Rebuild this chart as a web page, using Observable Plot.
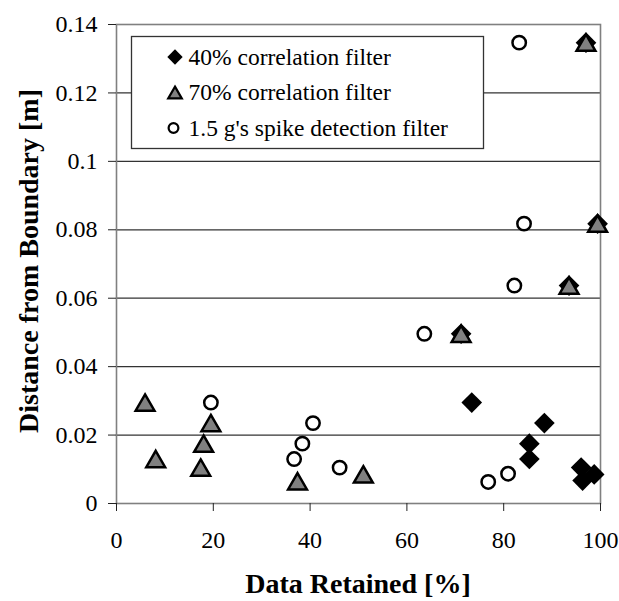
<!DOCTYPE html>
<html>
<head>
<meta charset="utf-8">
<script src="https://cdn.jsdelivr.net/npm/d3@7"></script>
<script src="https://cdn.jsdelivr.net/npm/@observablehq/plot@0.6"></script>
<style>
  html, body { margin: 0; padding: 0; background: #fff; }
  #wrap { position: relative; width: 619px; height: 601px; overflow: hidden; }
  #wrap svg { position: absolute; left: 0; top: 0; }
  #wrap svg text { font-family: "Liberation Serif", "Times New Roman", serif; }
</style>
</head>
<body>
<div id="wrap"></div>
<script>
// ---- data ----
const seriesNames = ["40% correlation filter", "70% correlation filter", "1.5 g's spike detection filter"];

const corr40X = [73.4, 88.4, 85.3, 85.3, 96.0, 98.7, 96.3, 71.2, 93.5, 99.4, 97.0];
const corr40Y = [0.0295, 0.0235, 0.0175, 0.013, 0.0105, 0.0085, 0.0067, 0.0496, 0.0637, 0.0818, 0.1347];

const corr70X = [5.9, 8.1, 19.5, 18.0, 17.4, 37.4, 51.0, 71.2, 93.5, 99.4, 97.0];
const corr70Y = [0.0295, 0.013, 0.0235, 0.0175, 0.0105, 0.0065, 0.0085, 0.0496, 0.0637, 0.0818, 0.1347];

const spikeX = [19.5, 40.6, 38.4, 36.7, 46.1, 76.8, 80.9, 63.6, 82.2, 84.2, 83.2];
const spikeY = [0.0295, 0.0235, 0.0175, 0.013, 0.0105, 0.0063, 0.0087, 0.0496, 0.0637, 0.0818, 0.1347];

const xTicks = [0, 20, 40, 60, 80, 100];
const yTicks = [0, 0.02, 0.04, 0.06, 0.08, 0.1, 0.12, 0.14];

const xTitle = "Data Retained [%]";
const yTitle = "Distance from Boundary [m]";

// ---- build tables ----
const toRows = (xs, ys) => xs.map((x, i) => ({x, y: ys[i]}));
const d40 = toRows(corr40X, corr40Y);
const d70 = toRows(corr70X, corr70Y);
const dSpike = toRows(spikeX, spikeY);

const serif = "'Liberation Serif', 'Times New Roman', serif";

const chart = Plot.plot({
  width: 619,
  height: 601,
  marginLeft: 116,
  marginRight: 19,
  marginTop: 24,
  marginBottom: 98,
  style: {fontFamily: serif, fontSize: "24px", color: "#000", background: "#fff", overflow: "visible"},
  x: {domain: [0, 100], label: null},
  y: {domain: [0, 0.14], label: null},
  marks: [
    Plot.gridY(yTicks, {stroke: "#333", strokeOpacity: 1, strokeWidth: 1.2}),
    Plot.frame({stroke: "#808080", strokeWidth: 1.6}),
    // tick marks only (labels drawn below as text marks)
    Plot.axisX(xTicks, {tickSize: 8, stroke: "#222", label: null, tickFormat: () => ""}),
    Plot.axisY(yTicks, {tickSize: 8, stroke: "#222", label: null, tickFormat: () => ""}),
    // tick labels
    Plot.text(xTicks, {x: d => d, y: () => 0, text: d => String(d), dy: 37, lineAnchor: "middle", textAnchor: "middle", fontSize: 24, fill: "#000", fontFamily: serif}),
    Plot.text(yTicks, {x: () => 0, y: d => d, text: d => String(d), dx: -19, textAnchor: "end", lineAnchor: "middle", fontSize: 24, fill: "#000", fontFamily: serif}),
    // series
    Plot.dot(d40, {x: "x", y: "y", symbol: "diamond2", r: 9.3, fill: "#000", stroke: "none"}),
    Plot.dot(d70, {x: "x", y: "y", symbol: "triangle", r: 7, fill: "#808080", stroke: "#000", strokeWidth: 2.5, dy: 2.7}),
    Plot.dot(dSpike, {x: "x", y: "y", symbol: "circle", r: 6.7, fill: "#fff", stroke: "#000", strokeWidth: 2.5})
  ]
});

document.getElementById("wrap").appendChild(chart);

// ---- axis titles ----
const svg = d3.select(chart);
svg.append("text")
  .attr("x", 358).attr("y", 593)
  .attr("text-anchor", "middle")
  .attr("font-family", serif).attr("font-weight", "bold").attr("font-size", 28)
  .attr("fill", "#000")
  .text(xTitle);
svg.append("text")
  .attr("transform", "translate(38,261) rotate(-90)")
  .attr("text-anchor", "middle")
  .attr("font-family", serif).attr("font-weight", "bold").attr("font-size", 28)
  .attr("fill", "#000")
  .text(yTitle);

// ---- legend ----
const lg = svg.append("g");
lg.append("rect")
  .attr("x", 131.5).attr("y", 36.5).attr("width", 352).attr("height", 112)
  .attr("fill", "#fff").attr("stroke", "#333").attr("stroke-width", 1.3);
const legendSymbols = [
  {type: d3.symbolDiamond2, size: 150, fill: "#000", stroke: "none", sw: 0, dy: 0},
  {type: d3.symbolTriangle, size: 80, fill: "#808080", stroke: "#000", sw: 2.2, dy: 2},
  {type: d3.symbolCircle, size: 75, fill: "#fff", stroke: "#000", sw: 2.2, dy: 0}
];
seriesNames.forEach((name, i) => {
  const cy = 57 + i * 35.5;
  const s = legendSymbols[i];
  lg.append("path")
    .attr("d", d3.symbol(s.type, s.size)())
    .attr("transform", `translate(${i === 2 ? 173.5 : 175},${cy + s.dy})`)
    .attr("fill", s.fill).attr("stroke", s.stroke).attr("stroke-width", s.sw);
  lg.append("text")
    .attr("x", 188.5).attr("y", cy + 7.5)
    .attr("text-anchor", "start")
    .attr("font-family", serif).attr("font-size", 23.5).attr("fill", "#000")
    .text(name);
});
</script>
</body>
</html>
